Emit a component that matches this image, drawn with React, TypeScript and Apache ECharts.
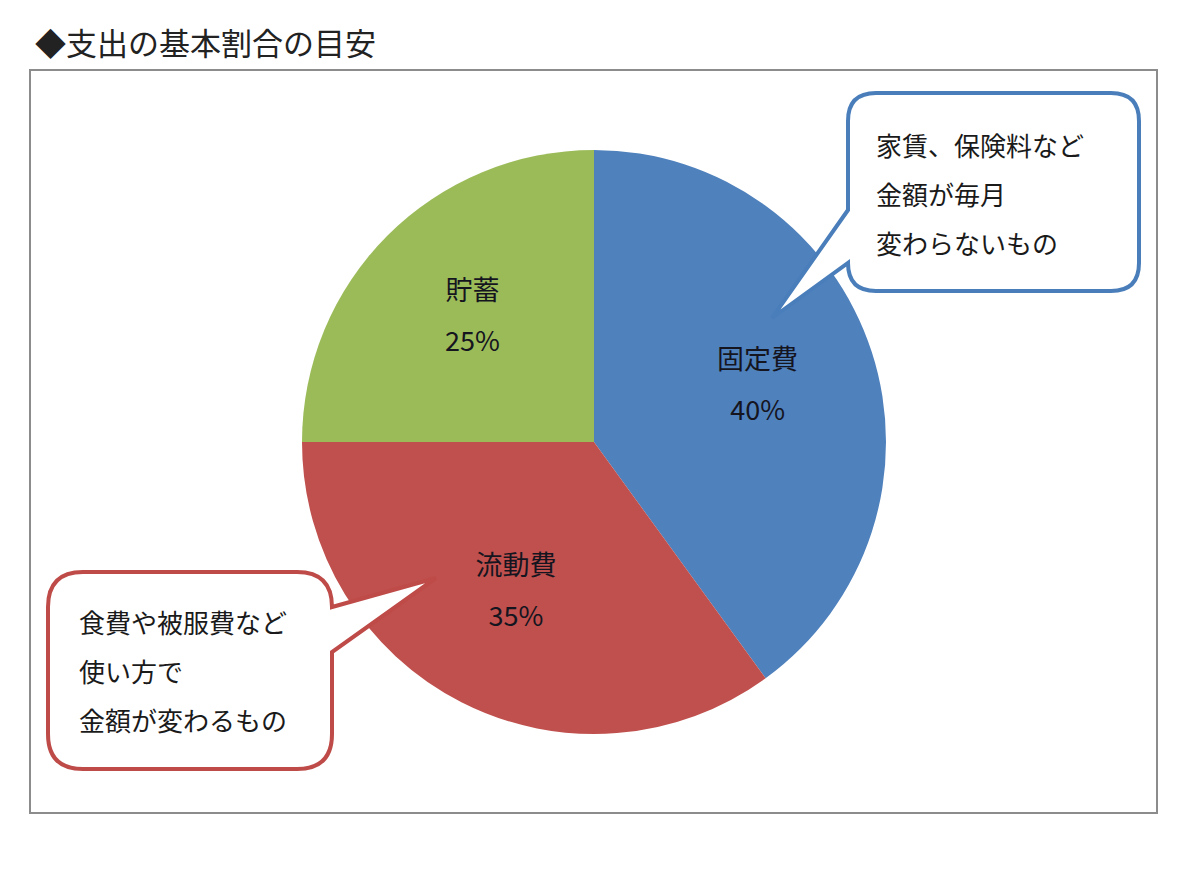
import React, { useEffect, useRef } from "react";
import * as echarts from "echarts";

const titleText = "◆支出の基本割合の目安";
const categories = ["固定費", "流動費", "貯蓄"];
const values = [40, 35, 25];
const sliceColors = ["#4F81BD", "#C0504D", "#9BBB59"];
const blueNoteLines = ["家賃、保険料など", "金額が毎月", "変わらないもの"];
const redNoteLines = ["食費や被服費など", "使い方で", "金額が変わるもの"];

const FONT = '"Noto Sans CJK JP", "Noto Sans", sans-serif';

const blueBubble =
  "M 876 93 L 1111 93 Q 1139 93 1139 121 L 1139 263 Q 1139 291 1111 291 L 876 291 Q 848 291 848 263 L 772 318 L 848 210 L 848 121 Q 848 93 876 93 Z";
const redBubble =
  "M 83 572 L 297 572 Q 332 572 332 607 L 436 578 L 332 652 L 332 734 Q 332 769 297 769 L 83 769 Q 48 769 48 734 L 48 607 Q 48 572 83 572 Z";

let registered = false;
function registerShapes() {
  if (registered) return;
  echarts.graphic.registerShape("bubbleBlue", echarts.graphic.extendPath(blueBubble, {}));
  echarts.graphic.registerShape("bubbleRed", echarts.graphic.extendPath(redBubble, {}));
  registered = true;
}

export default function App() {
  const ref = useRef<HTMLDivElement>(null);
  useEffect(() => {
    if (!ref.current) return;
    registerShapes();
    const chart = echarts.init(ref.current, null, { renderer: "svg" });
    const data = categories.map((name, i) => ({
      name,
      value: values[i],
      itemStyle: { color: sliceColors[i] },
    }));
    chart.setOption({
      animation: false,
      backgroundColor: "#ffffff",
      textStyle: { fontFamily: FONT },
      graphic: [
        {
          type: "rect",
          z: 0,
          shape: { x: 30, y: 70, width: 1127, height: 743 },
          style: { fill: "#ffffff", stroke: "#8c8c8c", lineWidth: 2 },
        },
        {
          type: "text",
          z: 10,
          x: 35,
          y: 41,
          style: {
            text: titleText,
            fontSize: 31,
            fontFamily: FONT,
            fill: "#222222",
            verticalAlign: "middle",
          },
        },
        {
          type: "bubbleBlue",
          z: 100,
          style: { fill: "#ffffff", stroke: "#4A7EBB", lineWidth: 4, lineJoin: "miter" },
        },
        {
          type: "text",
          z: 101,
          x: 876,
          y: 120,
          style: {
            text: blueNoteLines.join("\n"),
            fontSize: 26,
            lineHeight: 49,
            fontFamily: FONT,
            fill: "#1a1a1a",
          },
        },
        {
          type: "bubbleRed",
          z: 100,
          style: { fill: "#ffffff", stroke: "#BE4B48", lineWidth: 4, lineJoin: "miter" },
        },
        {
          type: "text",
          z: 101,
          x: 79,
          y: 597,
          style: {
            text: redNoteLines.join("\n"),
            fontSize: 26,
            lineHeight: 49,
            fontFamily: FONT,
            fill: "#1a1a1a",
          },
        },
      ],
      series: [
        {
          type: "pie",
          center: [594, 442],
          radius: 292,
          startAngle: 90,
          clockwise: true,
          silent: true,
          label: { show: false },
          labelLine: { show: false },
          itemStyle: { borderWidth: 0 },
          data,
        },
        {
          type: "pie",
          center: [594, 442],
          radius: 338,
          startAngle: 90,
          clockwise: true,
          silent: true,
          itemStyle: { color: "rgba(0,0,0,0)", borderWidth: 0 },
          labelLine: { show: false },
          labelLayout: { dy: -6 },
          label: {
            show: true,
            position: "inside",
            formatter: "{b}\n{d}%",
            fontSize: 27,
            lineHeight: 51,
            color: "#15151f",
            fontFamily: FONT,
          },
          data: categories.map((name, i) => ({ name, value: values[i] })),
        },
      ],
    });
    return () => chart.dispose();
  }, []);
  return (
    <div
      ref={ref}
      style={{ position: "absolute", left: 0, top: 0, width: 1200, height: 876 }}
    />
  );
}
